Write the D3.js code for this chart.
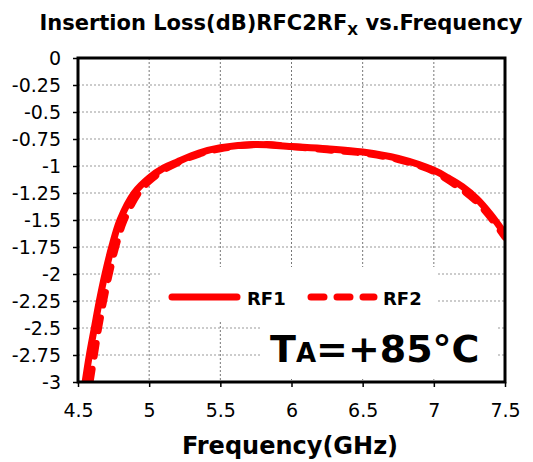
<!DOCTYPE html>
<html>
<head>
<meta charset="utf-8">
<script src="https://cdn.jsdelivr.net/npm/d3@7"></script>
<style>
  body { margin: 0; background: #fff; }
  text { font-family: "DejaVu Sans", Verdana, sans-serif; }
</style>
</head>
<body>
<svg id="Viz"></svg>
<script>
// values
let freqRF1 = [4.55, 4.58, 4.615, 4.65, 4.69, 4.737, 4.795, 4.895, 5.0, 5.1, 5.2, 5.35, 5.5, 5.75, 6.0, 6.25, 6.5, 6.75, 7.0, 7.1, 7.2, 7.3, 7.4, 7.5];
let lossRF1 = [-3.0, -2.75, -2.5, -2.25, -2.0, -1.75, -1.5, -1.25, -1.11, -1.02, -0.96, -0.88, -0.83, -0.8, -0.82, -0.84, -0.87, -0.93, -1.04, -1.11, -1.19, -1.3, -1.45, -1.63];
let freqRF2 = [4.585, 4.615, 4.645, 4.68, 4.72, 4.765, 4.825, 4.925, 5.0, 5.1, 5.2, 5.35, 5.5, 5.75, 6.0, 6.25, 6.5, 6.75, 7.0, 7.1, 7.2, 7.3, 7.4, 7.5];
let lossRF2 = [-3.0, -2.75, -2.5, -2.25, -2.0, -1.75, -1.5, -1.25, -1.14, -1.04, -0.97, -0.89, -0.84, -0.8, -0.82, -0.85, -0.88, -0.94, -1.05, -1.13, -1.22, -1.33, -1.48, -1.66];
let xTicks = [4.5, 5, 5.5, 6, 6.5, 7, 7.5];
let yTicks = [0, -0.25, -0.5, -0.75, -1, -1.25, -1.5, -1.75, -2, -2.25, -2.5, -2.75, -3];
let seriesNames = ["RF1", "RF2"];

let Width = 533, Height = 462;
let margin = {top: 58, right: 28, bottom: 80, left: 78};

let vizArea = d3.select('#Viz').attr("width", Width).attr("height", Height);

let xScale = d3.scaleLinear().domain([4.5, 7.5]).range([margin.left, Width - margin.right]);
let yScale = d3.scaleLinear().domain([-3, 0]).range([Height - margin.bottom, margin.top]);

// grid
vizArea.append("g")
  .selectAll("line")
  .data(xTicks.slice(1, -1))
  .enter().append("line")
  .attr("x1", d => xScale(d)).attr("x2", d => xScale(d))
  .attr("y1", yScale(0)).attr("y2", yScale(-3))
  .attr("stroke", "#777").attr("stroke-width", 1).attr("stroke-dasharray", "2,2");

vizArea.append("g")
  .selectAll("line")
  .data(yTicks.slice(1, -1))
  .enter().append("line")
  .attr("x1", xScale(4.5)).attr("x2", xScale(7.5))
  .attr("y1", d => yScale(d)).attr("y2", d => yScale(d))
  .attr("stroke", "#999").attr("stroke-width", 1).attr("stroke-dasharray", "2,2");

// white boxes behind legend and temperature label
vizArea.append("rect").attr("x", 160).attr("y", 267).attr("width", 277).attr("height", 55).attr("fill", "#fff");
vizArea.append("rect").attr("x", 262).attr("y", 322).attr("width", 236).attr("height", 57).attr("fill", "#fff");

// curves
vizArea.append("clipPath").attr("id", "clip")
  .append("rect")
  .attr("x", xScale(4.5)).attr("y", yScale(0))
  .attr("width", xScale(7.5) - xScale(4.5)).attr("height", yScale(-3) - yScale(0));

let drawline = d3.line()
  .x(d => xScale(d[0]))
  .y(d => yScale(d[1]))
  .curve(d3.curveCatmullRom.alpha(0.5));

let rf1 = freqRF1.map((f, i) => [f, lossRF1[i]]);
let rf2 = freqRF2.map((f, i) => [f, lossRF2[i]]);

vizArea.append("path")
  .datum(rf2)
  .attr("clip-path", "url(#clip)")
  .attr("fill", "none").attr("stroke", "#ff0000").attr("stroke-width", 7)
  .attr("stroke-dasharray", "13,13").attr("stroke-linecap", "round")
  .attr("d", drawline);

vizArea.append("path")
  .datum(rf1)
  .attr("clip-path", "url(#clip)")
  .attr("fill", "none").attr("stroke", "#ff0000").attr("stroke-width", 7)
  .attr("stroke-linejoin", "round")
  .attr("d", drawline);

// axes
let yAxis = vizArea.append("g")
  .attr("transform", "translate(" + xScale(4.5) + ",0)")
  .call(d3.axisLeft(yScale).tickValues(yTicks).tickSize(5).tickPadding(12).tickFormat(d => d));
let xAxis = vizArea.append("g")
  .attr("transform", "translate(0," + yScale(-3) + ")")
  .call(d3.axisBottom(xScale).tickValues(xTicks).tickSize(5).tickPadding(17).tickFormat(d => d));

[yAxis, xAxis].forEach(a => {
  a.select(".domain").remove();
  a.selectAll("line").attr("stroke", "#000").attr("stroke-width", 1.5);
  a.selectAll("text").attr("font-size", 19).attr("fill", "#000")
    .style("font-family", "'DejaVu Sans', Verdana, sans-serif");
});
yAxis.selectAll("text").attr("dy", "0.35em");

// frame
vizArea.append("rect")
  .attr("x", xScale(4.5)).attr("y", yScale(0))
  .attr("width", xScale(7.5) - xScale(4.5)).attr("height", yScale(-3) - yScale(0))
  .attr("fill", "none").attr("stroke", "#000").attr("stroke-width", 3);

// title
let title = vizArea.append("text")
  .attr("x", 281).attr("y", 30)
  .attr("text-anchor", "middle").attr("font-weight", "bold").attr("font-size", 21);
title.append("tspan").text("Insertion Loss(dB)RFC2RF");
title.append("tspan").attr("font-size", 14).attr("dy", 5).text("X");
title.append("tspan").attr("dy", -5).text(" vs.Frequency");

vizArea.append("text")
  .attr("x", 290).attr("y", 454)
  .attr("text-anchor", "middle").attr("font-weight", "bold").attr("font-size", 24)
  .text("Frequency(GHz)");

// legend
let legend = vizArea.append("g");
legend.append("line").attr("x1", 172).attr("x2", 237).attr("y1", 297).attr("y2", 297)
  .attr("stroke", "#ff0000").attr("stroke-width", 7).attr("stroke-linecap", "round");
legend.append("line").attr("x1", 311).attr("x2", 374).attr("y1", 297).attr("y2", 297)
  .attr("stroke", "#ff0000").attr("stroke-width", 7).attr("stroke-linecap", "round")
  .attr("stroke-dasharray", "13,13");
legend.selectAll(".lbl")
  .data(seriesNames)
  .enter().append("text")
  .attr("x", (d, i) => i == 0 ? 247 : 383).attr("y", 305)
  .attr("font-weight", "bold").attr("font-size", 18)
  .text(d => d);

let ta = vizArea.append("text")
  .attr("x", 270).attr("y", 362)
  .attr("font-weight", "bold").attr("font-size", 38);
ta.append("tspan").text("T");
ta.append("tspan").attr("font-size", 26).text("A");
ta.append("tspan").text("=+85°C");
</script>
</body>
</html>
